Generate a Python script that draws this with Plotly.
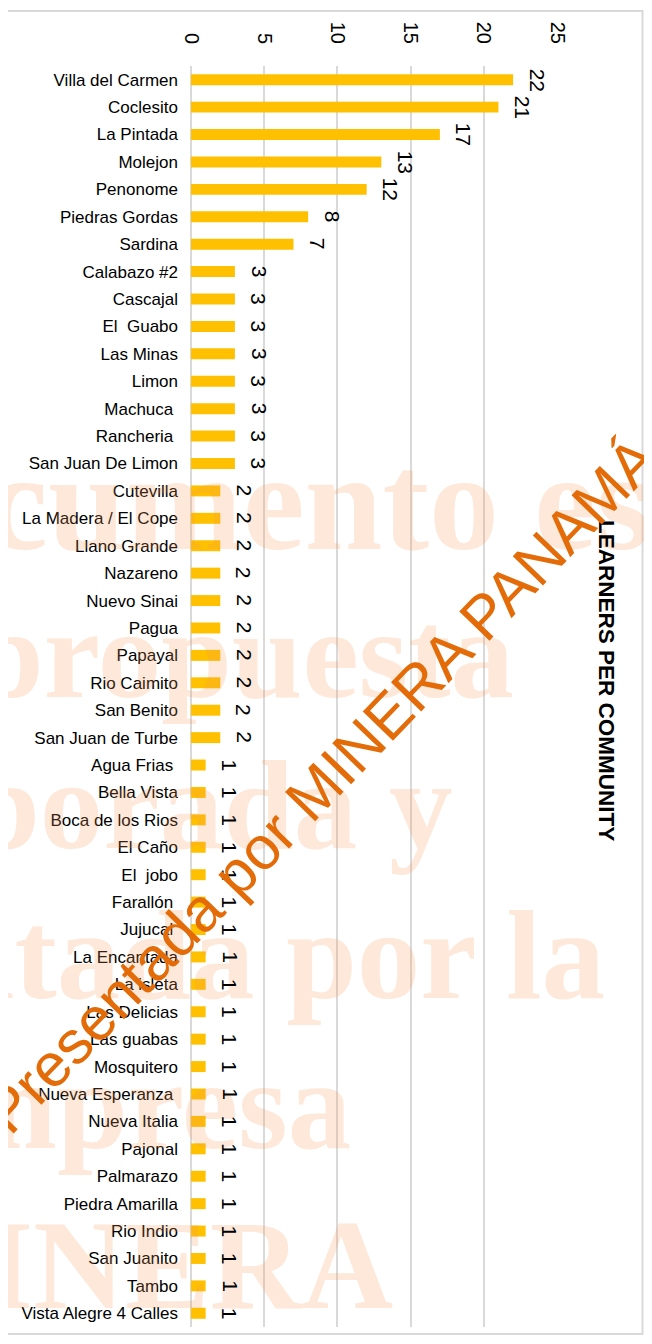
import plotly.graph_objects as go

# ---------------- data ----------------
communities = [
    "Villa del Carmen", "Coclesito", "La Pintada", "Molejon", "Penonome",
    "Piedras Gordas", "Sardina", "Calabazo #2", "Cascajal", "El\u00a0 Guabo",
    "Las Minas", "Limon", "Machuca\u00a0", "Rancheria\u00a0", "San Juan De Limon",
    "Cutevilla", "La Madera / El Cope", "Llano Grande", "Nazareno", "Nuevo Sinai",
    "Pagua", "Papayal", "Rio Caimito", "San Benito", "San Juan de Turbe",
    "Agua Frias\u00a0", "Bella Vista", "Boca de los Rios", "El Caño", "El\u00a0 jobo",
    "Farallón\u00a0", "Jujucal\u00a0", "La Encantada", "La isleta", "Las Delicias",
    "Las guabas", "Mosquitero", "Nueva Esperanza\u00a0", "Nueva Italia", "Pajonal",
    "Palmarazo", "Piedra Amarilla", "Rio Indio", "San Juanito", "Tambo",
    "Vista Alegre 4 Calles",
]
learners = [
    22, 21, 17, 13, 12, 8, 7, 3, 3, 3,
    3, 3, 3, 3, 3, 2, 2, 2, 2, 2,
    2, 2, 2, 2, 2, 1, 1, 1, 1, 1,
    1, 1, 1, 1, 1, 1, 1, 1, 1, 1,
    1, 1, 1, 1, 1, 1,
]
x_ticks = [0, 5, 10, 15, 20, 25]
chart_title = "LEARNERS PER COMMUNITY"

# ---------------- layout geometry (page pixels) ----------------
OFF = 8                      # page body margin offset
W, H = 652 - 2 * OFF, 1344 - 2 * OFF
L, R, T, B = 191 - OFF, 557 - OFF, 66 - OFF, 1327 - OFF


def px(xp):
    """page x pixel -> paper coordinate"""
    return (xp - OFF - L) / (R - L)


def py(yp):
    """page y pixel -> paper coordinate"""
    return (B - (yp - OFF)) / (B - T)


SANS = "Liberation Sans, Arial, sans-serif"
SERIF = "Liberation Serif, Times New Roman, serif"

fig = go.Figure()
fig.add_trace(go.Bar(
    x=learners,
    y=communities,
    orientation="h",
    marker=dict(color="#FFC000", line=dict(width=0)),
    hoverinfo="x+y",
))

annotations = []

# faint background watermark
watermark = [
    ("documento es", 653, 501, 140),
    ("propuesta", 516, 654, 127),
    ("elaborada y", 455, 805, 127),
    ("presentada por la", 607, 955, 127),
    ("empresa", 353, 1105, 127),
    ("MINERA", 395, 1265, 127),
]
for txt, xr, yc, fs in watermark:
    annotations.append(dict(
        text="<b>%s</b>" % txt, xref="paper", yref="paper",
        x=px(xr), y=py(yc), xanchor="right", yanchor="middle",
        showarrow=False,
        font=dict(family=SERIF, size=fs, color="rgba(245,150,80,0.22)"),
    ))

# value labels (rotated)
for c, v in zip(communities, learners):
    annotations.append(dict(
        x=v, y=c, xref="x", yref="y", text=str(v), showarrow=False,
        textangle=90, xanchor="center", yanchor="middle", xshift=24,
        font=dict(family=SANS, size=21, color="#000000"),
    ))

# rotated title on the right
annotations.append(dict(
    text="<b>%s</b>" % chart_title, xref="paper", yref="paper",
    x=px(607), y=py(680), xanchor="center", yanchor="middle",
    textangle=90, showarrow=False,
    font=dict(family=SANS, size=22.5, color="#000000"),
))

# diagonal orange stamp
annotations.append(dict(
    text="Presentada por MINERA PANAMÁ", xref="paper", yref="paper",
    x=px(321), y=py(785), xanchor="center", yanchor="middle",
    textangle=-46, showarrow=False,
    font=dict(family=SANS, size=61, color="#E36C09"),
))

fig.update_layout(
    width=W, height=H, autosize=False,
    margin=dict(l=L, r=W - R, t=T, b=H - B, pad=0),
    paper_bgcolor="white", plot_bgcolor="white",
    showlegend=False,
    bargap=0.6,
    xaxis=dict(
        side="top", range=[0, 25], tickvals=x_ticks,
        ticktext=[str(t) for t in x_ticks], automargin=False,
        tickangle=90, showgrid=True, gridcolor="#D9D9D9", gridwidth=1.5,
        zeroline=True, zerolinecolor="#D9D9D9", zerolinewidth=1.5,
        showline=False, ticks="", ticklabelstandoff=18,
        tickfont=dict(family=SANS, size=20, color="#000000"),
    ),
    yaxis=dict(
        type="category", autorange="reversed", showgrid=False,
        zeroline=False, showline=False, ticks="", ticklabelstandoff=12,
        automargin=False,
        tickfont=dict(family=SANS, size=17, color="#000000"),
    ),
    annotations=annotations,
    shapes=[dict(
        type="rect", xref="paper", yref="paper",
        x0=px(-1), x1=px(642.5), y0=py(1334), y1=py(11),
        line=dict(color="#D9D9D9", width=2), fillcolor="rgba(0,0,0,0)",
        layer="above",
    )],
)

fig.write_html("out.html")
